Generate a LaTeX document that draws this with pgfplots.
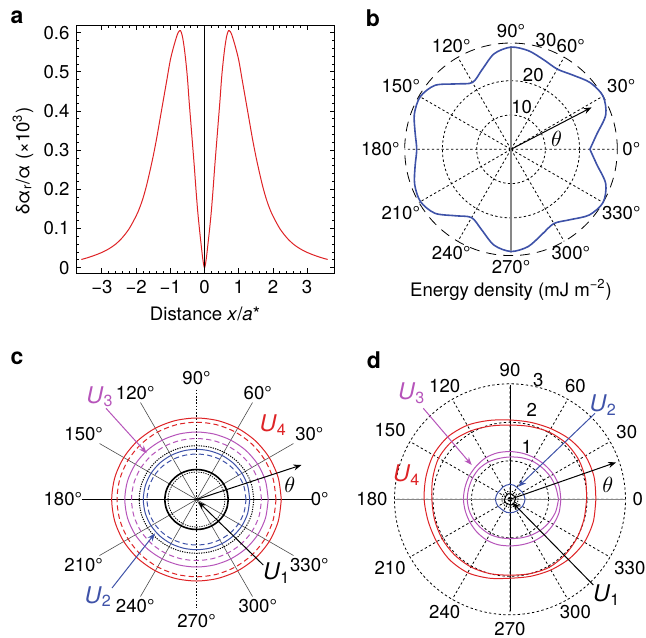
\documentclass[border=0pt]{standalone}
\usepackage{fontspec}
\setmainfont{TeX Gyre Heros}
\usepackage{pgfplots}
\pgfplotsset{compat=1.18}
\usepackage{pgfplotstable}
\usepgfplotslibrary{polar}
\usetikzlibrary{arrows.meta}

\definecolor{cred}{RGB}{222,35,38}
\definecolor{cblue}{RGB}{62,82,168}
\definecolor{cmag}{RGB}{182,84,186}
\definecolor{cgray}{RGB}{135,135,135}

% panel b: energy density vs angle
\pgfplotstableread{
a r
0 23
10 25.4
20 29.4
30 31
40 30.2
50 28.2
60 27
70 27.8
80 29.2
90 29.8
100 28.3
110 24.7
120 22.5
130 24.9
140 29
150 30.6
160 30
170 28.4
180 27.5
190 28.4
200 29.9
210 30.5
220 29
230 25.3
240 23
250 25
260 28.4
270 29.8
280 28.8
290 26.4
300 25
310 26.8
320 29.8
330 31
340 29.4
350 25.4
360 23
}\energy

% panel c: radii (arbitrary units)
\pgfplotstableread{
a rs rd ms md kd bs bd ks ki
0 84.8 79.5 71.7 65 57.3 53.2 49.5 31.7 28.5
15 84.58 79.35 71.42 64.73 57.07 53 49.23 31.59 28.43
30 83.98 78.95 70.65 64 56.43 52.45 48.5 31.28 28.25
45 83.15 78.4 69.6 63 55.55 51.7 47.5 30.85 28
60 82.33 77.85 68.55 62 54.68 50.95 46.5 30.43 27.75
75 81.72 77.45 67.78 61.27 54.03 50.4 45.77 30.11 27.57
90 81.5 77.3 67.5 61 53.8 50.2 45.5 30 27.5
105 81.72 77.45 67.78 61.27 54.03 50.4 45.77 30.11 27.57
120 82.33 77.85 68.55 62 54.68 50.95 46.5 30.43 27.75
135 83.15 78.4 69.6 63 55.55 51.7 47.5 30.85 28
150 83.98 78.95 70.65 64 56.43 52.45 48.5 31.28 28.25
165 84.58 79.35 71.42 64.73 57.07 53 49.23 31.59 28.43
180 84.8 79.5 71.7 65 57.3 53.2 49.5 31.7 28.5
195 84.58 79.35 71.42 64.73 57.07 53 49.23 31.59 28.43
210 83.98 78.95 70.65 64 56.43 52.45 48.5 31.28 28.25
225 83.15 78.4 69.6 63 55.55 51.7 47.5 30.85 28
240 82.33 77.85 68.55 62 54.68 50.95 46.5 30.43 27.75
255 81.72 77.45 67.78 61.27 54.03 50.4 45.77 30.11 27.57
270 81.5 77.3 67.5 61 53.8 50.2 45.5 30 27.5
285 81.72 77.45 67.78 61.27 54.03 50.4 45.77 30.11 27.57
300 82.33 77.85 68.55 62 54.68 50.95 46.5 30.43 27.75
315 83.15 78.4 69.6 63 55.55 51.7 47.5 30.85 28
330 83.98 78.95 70.65 64 56.43 52.45 48.5 31.28 28.25
345 84.58 79.35 71.42 64.73 57.07 53 49.23 31.59 28.43
360 84.8 79.5 71.7 65 57.3 53.2 49.5 31.7 28.5
}\panelc

% panel d
\pgfplotstableread{
a u4a u4b u3a u3b u2 u1a u1b
0 2.23 1.99 1.32 1.26 0.39 0.14 0.21
15 2.26 2.03 1.32 1.23 0.38 0.15 0.21
30 2.26 2.06 1.30 1.20 0.37 0.15 0.21
45 2.20 2.06 1.27 1.17 0.35 0.13 0.21
60 2.12 2.02 1.25 1.15 0.36 0.13 0.21
75 2.07 1.96 1.24 1.12 0.38 0.14 0.21
90 2.06 1.93 1.24 1.10 0.39 0.14 0.21
105 2.12 1.97 1.25 1.10 0.38 0.15 0.21
120 2.22 2.05 1.25 1.12 0.37 0.15 0.21
135 2.29 2.13 1.23 1.13 0.35 0.14 0.21
150 2.30 2.14 1.22 1.12 0.36 0.13 0.21
165 2.26 2.08 1.21 1.11 0.37 0.13 0.21
180 2.23 2.03 1.21 1.11 0.38 0.14 0.21
195 2.20 2.03 1.20 1.10 0.37 0.15 0.21
210 2.20 2.04 1.20 1.08 0.36 0.15 0.21
225 2.22 2.04 1.21 1.06 0.34 0.14 0.21
240 2.20 2.03 1.22 1.05 0.34 0.13 0.21
255 2.12 2.00 1.22 1.03 0.35 0.13 0.21
270 2.05 1.97 1.21 1.02 0.35 0.14 0.21
285 2.07 2.00 1.22 1.04 0.35 0.15 0.21
300 2.12 2.04 1.25 1.08 0.35 0.15 0.21
315 2.18 2.03 1.28 1.13 0.35 0.14 0.21
330 2.23 2.01 1.30 1.18 0.37 0.13 0.21
345 2.24 1.99 1.32 1.23 0.38 0.13 0.21
360 2.23 1.99 1.32 1.26 0.39 0.14 0.21
}\paneld

\newcommand\plab[3]{\node[anchor=#2, inner sep=1pt] at (axis cs:#1,\plr) {#3};}
\tikzset{arr/.style={line width=0.5pt, -{Stealth[length=4pt,width=3pt]}}}

\begin{document}
\fontsize{9.3}{11}\selectfont
\begin{tikzpicture}
\useasboundingbox (0,0) rectangle (323pt,-318.5pt);

% ---- a
\begin{axis}[at={(38pt,-136.65pt)}, anchor=south west,
  scale only axis, width=129.25pt, height=124.15pt,
  xmin=-3.757, xmax=3.8, ymin=-0.0143, ymax=0.6196,
  xtick={-3,-2,-1,0,1,2,3}, xticklabels={−3,−2,−1,0,1,2,3},
  ytick={0,0.1,0.2,0.3,0.4,0.5,0.6}, yticklabels={0,0.1,0.2,0.3,0.4,0.5,0.6},
  minor x tick num=4, minor y tick num=4,
  tick align=inside, tick pos=both,
  major tick length=2.5pt, minor tick length=1.3pt,
  tick style={black, line width=0.4pt},
  axis line style={line width=0.5pt}]
\addplot[cred, line width=0.5pt, smooth] coordinates {
 (-3.6,0.021) (-3.4,0.026) (-3.2,0.032) (-3.0,0.039) (-2.8,0.048) (-2.6,0.06)
 (-2.4,0.077) (-2.2,0.1) (-2.0,0.132) (-1.9,0.152) (-1.8,0.177) (-1.7,0.208)
 (-1.6,0.245) (-1.5,0.285) (-1.4,0.33) (-1.3,0.38) (-1.2,0.43) (-1.1,0.48)
 (-1.0,0.53) (-0.9,0.565) (-0.8,0.594) (-0.75,0.603) (-0.7,0.605) (-0.65,0.592)
 (-0.6,0.566) (-0.55,0.53) (-0.5,0.485) (-0.45,0.425) (-0.4,0.37) (-0.35,0.315)
 (-0.3,0.26) (-0.25,0.2) (-0.2,0.145) (-0.15,0.1) (-0.1,0.06) (-0.05,0.022) (0,0)
 (0.05,0.022) (0.1,0.06) (0.15,0.1) (0.2,0.145) (0.25,0.2) (0.3,0.26) (0.35,0.315)
 (0.4,0.37) (0.45,0.425) (0.5,0.485) (0.55,0.53) (0.6,0.566) (0.65,0.592)
 (0.7,0.605) (0.75,0.603) (0.8,0.594) (0.9,0.565) (1.0,0.53) (1.1,0.48)
 (1.2,0.43) (1.3,0.38) (1.4,0.33) (1.5,0.285) (1.6,0.245) (1.7,0.208)
 (1.8,0.177) (1.9,0.152) (2.0,0.132) (2.2,0.1) (2.4,0.077) (2.6,0.06)
 (2.8,0.048) (3.0,0.039) (3.2,0.032) (3.4,0.026) (3.6,0.021)};
\addplot[black, line width=0.5pt] coordinates {(0,-0.0143) (0,0.6196)};
\end{axis}

% ---- b
\def\plr{31.8}
\begin{polaraxis}[at={(255.5pt,-74.65pt)}, anchor=center,
  scale only axis, width=106.3pt, height=106.3pt,
  xmin=0, xmax=360, ymin=0, ymax=31,
  xtick={0,30,...,330}, ytick={10,20},
  xticklabels={}, yticklabels={},
  major tick length=0pt,
  xmajorgrids, ymajorgrids,
  major grid style={black, line width=0.4pt, dash pattern=on 1.2pt off 1.2pt},
  axis line style={black, line width=0.4pt, dash pattern=on 5pt off 3.5pt},
  y axis line style={draw=none},
  clip=false]
\addplot[cgray, line width=0.8pt] coordinates {(90,29.6) (270,29.3)};
\addplot[cblue, line width=0.8pt, smooth] table[x=a, y=r] {\energy};
\draw[arr] (axis cs:0,0) -- (axis cs:27.5,26.5);
\node[font=\fontsize{10.5}{12}\selectfont] at (axis cs:12.3,13.6) {$\theta$};
\plab{0}{180}{0°}\plab{30}{210}{30°}\plab{60}{240}{60°}\plab{90}{270}{90°}
\plab{120}{300}{120°}\plab{150}{330}{150°}\plab{180}{0}{180°}\plab{210}{30}{210°}
\plab{240}{60}{240°}\plab{270}{90}{270°}\plab{300}{120}{300°}\plab{330}{150}{330°}
\end{polaraxis}

% ---- c
\begin{polaraxis}[at={(98.25pt,-249.75pt)}, anchor=center,
  scale only axis, width=112pt, height=112pt,
  xmin=0, xmax=360, ymin=0, ymax=112,
  xtick={0,30,60,120,150,180,210,240,300,330}, ytick=\empty,
  xticklabels={},
  major tick length=0pt,
  xmajorgrids,
  major grid style={black!70, line width=0.3pt},
  axis line style={draw=none},
  clip=false]
\addplot[black, line width=0.4pt, dash pattern=on 0.8pt off 0.8pt] coordinates {(90,110) (270,108)};
\addplot[black, line width=0.6pt] coordinates {(0,116.5) (180,114.5)};
\addplot[cred, line width=0.5pt, smooth] table[x=a, y=rs] {\panelc};
\addplot[cred, line width=0.5pt, smooth, dash pattern=on 2.6pt off 1.6pt] table[x=a, y=rd] {\panelc};
\addplot[cmag, line width=0.5pt, smooth] table[x=a, y=ms] {\panelc};
\addplot[cmag, line width=0.5pt, smooth, dash pattern=on 2.6pt off 1.6pt] table[x=a, y=md] {\panelc};
\addplot[black, line width=0.5pt, smooth, dash pattern=on 0.6pt off 0.6pt] table[x=a, y=kd] {\panelc};
\addplot[cblue, line width=0.5pt, smooth] table[x=a, y=bs] {\panelc};
\addplot[cblue, line width=0.5pt, smooth, dash pattern=on 2.6pt off 1.6pt] table[x=a, y=bd] {\panelc};
\addplot[black, line width=0.8pt, smooth] table[x=a, y=ks] {\panelc};
\addplot[black, line width=0.4pt, smooth, dash pattern=on 0.6pt off 0.6pt] table[x=a, y=ki] {\panelc};
\draw[arr] (axis cs:0,0) -- (axis cs:18.2,110.5);
\node[font=\fontsize{11}{13}\selectfont] at (axis cs:8.8,94.4) {$\theta$};
\def\plr{112}
\plab{0}{180}{0°}\plab{30}{210}{30°}\plab{60}{240}{60°}\plab{90}{270}{90°}
\plab{120}{300}{120°}\plab{150}{330}{150°}\plab{180}{0}{180°}\plab{210}{30}{210°}
\plab{240}{60}{240°}\plab{270}{90}{270°}\plab{300}{120}{300°}\plab{330}{150}{330°}
\end{polaraxis}

% ---- d
\begin{polaraxis}[at={(255pt,-249.65pt)}, anchor=center,
  scale only axis, width=115.5pt, height=115.5pt,
  xmin=0, xmax=360, ymin=0, ymax=3,
  xtick={0,30,...,330}, ytick={1,2},
  xticklabels={}, yticklabels={},
  major tick length=0pt,
  xmajorgrids, ymajorgrids,
  major grid style={black, line width=0.4pt, dash pattern=on 1.2pt off 1.2pt},
  axis line style={black, line width=0.4pt, dash pattern=on 1.2pt off 1.2pt},
  y axis line style={draw=none},
  clip=false]
\addplot[cgray, line width=0.7pt] coordinates {(0,3) (180,3)};
\addplot[black, line width=0.5pt] coordinates {(90,2.97) (270,2.9)};
\addplot[cred, line width=0.5pt, smooth] table[x=a, y=u4a] {\paneld};
\addplot[cred, line width=0.5pt, smooth] table[x=a, y=u4b] {\paneld};
\addplot[cmag, line width=0.5pt, smooth] table[x=a, y=u3a] {\paneld};
\addplot[cmag, line width=0.5pt, smooth] table[x=a, y=u3b] {\paneld};
\addplot[cblue, line width=0.5pt, smooth] table[x=a, y=u2] {\paneld};
\addplot[black, line width=0.5pt, smooth] table[x=a, y=u1a] {\paneld};
\addplot[black, line width=0.4pt, smooth, dash pattern=on 0.6pt off 0.6pt] table[x=a, y=u1b] {\paneld};
\draw[arr] (axis cs:0,0) -- (axis cs:19.2,2.92);
\node[font=\fontsize{11}{13}\selectfont] at (axis cs:8.4,2.57) {$\theta$};
\def\plr{3.12}
\plab{0}{180}{0}\plab{30}{210}{30}\plab{60}{240}{60}\plab{90}{270}{90}
\plab{120}{300}{120}\plab{150}{330}{150}\plab{180}{0}{180}\plab{210}{30}{210}
\plab{240}{60}{240}\plab{270}{90}{270}\plab{300}{120}{300}\plab{330}{150}{330}
\end{polaraxis}

% ---- annotations in page pixels
\begin{scope}[x=0.5pt, y=-0.5pt]
\tikzset{pl/.style={font=\fontsize{11.5}{13}\selectfont\bfseries},
         ul/.style={font=\fontsize{11.5}{13}\selectfont}}
\node[pl] at (17,17) {a};
\node[pl] at (373,18) {b};
\node[pl] at (17,358) {c};
\node[pl] at (374,360) {d};
\node[rotate=90] at (23,161) {δα\textsubscript{r}/α (×10\textsuperscript{3})};
\node at (205,314) {Distance \textit{x}/\textit{a}*};
\node at (511,290) {Energy density (mJ m\textsuperscript{−2})};
\node at (521.7,106.7) {10};
\node at (533.3,75) {20};
\node at (546,40.5) {30};
% c
\node[ul, cred] at (273.3,425) {\textit{U}\textsubscript{4}};
\node[ul, cmag] at (100,396.7) {\textit{U}\textsubscript{3}};
\draw[arr, cmag] (106,408.3) -- (146.7,453.3);
\node[ul, cblue] at (98.3,596.7) {\textit{U}\textsubscript{2}};
\draw[arr, cblue] (112,588) -- (155,533.3);
\node[ul] at (276.7,573.3) {\textit{U}\textsubscript{1}};
\draw[arr] (263.3,565) -- (198.3,501.7);
% d
\node[ul, cred] at (406.7,475) {\textit{U}\textsubscript{4}};
\node[ul, cmag] at (411.7,393.3) {\textit{U}\textsubscript{3}};
\draw[arr, cmag] (423.3,408.3) -- (471.7,465);
\node[ul, cblue] at (603.3,405) {\textit{U}\textsubscript{2}};
\draw[arr, cblue] (595,413.3) -- (518.3,486.7);
\node[ul] at (606.7,595) {\textit{U}\textsubscript{1}};
\draw[arr] (593.3,585) -- (512.7,502.7);
\node at (526.7,446.7) {1};
\node at (531.7,410) {2};
\node at (538.3,380) {3};
\end{scope}
\end{tikzpicture}
\end{document}
